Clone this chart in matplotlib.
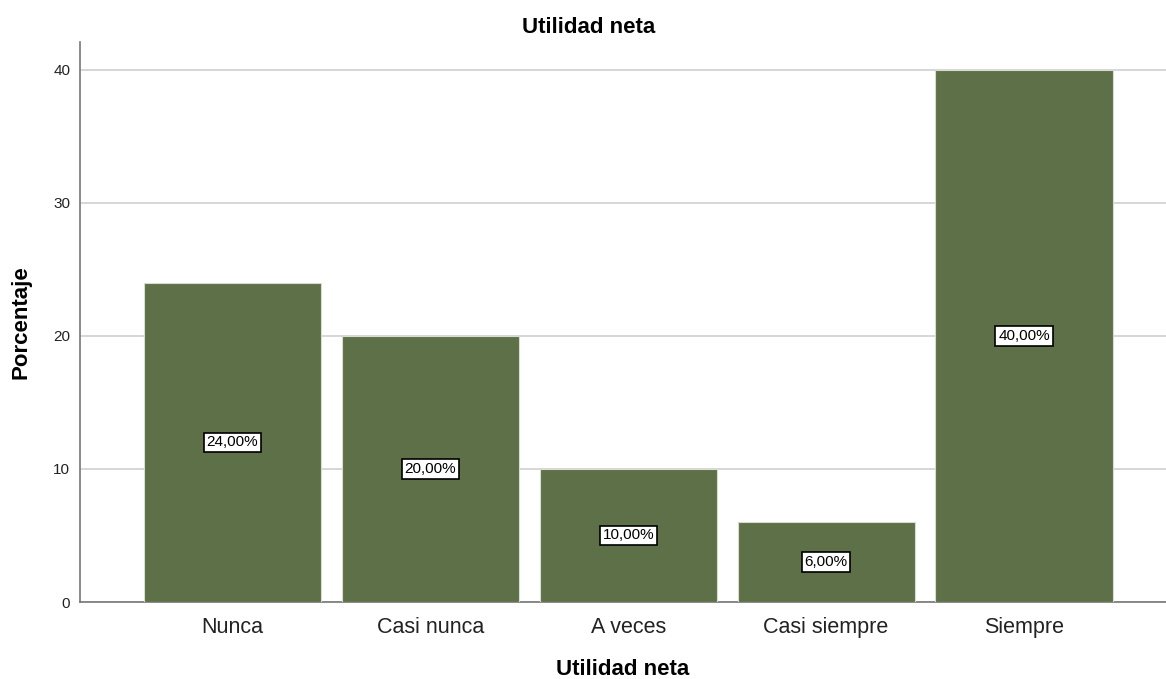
import matplotlib.pyplot as plt

categorias = ['Nunca', 'Casi nunca', 'A veces', 'Casi siempre', 'Siempre']
porcentajes = [24, 20, 10, 6, 40]
etiquetas = ['24,00%', '20,00%', '10,00%', '6,00%', '40,00%']

plt.rcParams['font.family'] = ['Liberation Sans', 'DejaVu Sans']

fig = plt.figure(figsize=(11.66, 6.79), dpi=100)
ax = fig.add_axes([0.0686, 0.1134, 0.931, 0.825])

x = range(len(categorias))
bars = ax.bar(x, porcentajes, width=0.895, color='#5e7048',
              edgecolor='#d8dccf', linewidth=0.8, zorder=3)

for b, v, t in zip(bars, porcentajes, etiquetas):
    ax.text(b.get_x() + b.get_width() / 2, v / 2, t, ha='center', va='center',
            fontsize=11, color='black', zorder=4,
            bbox=dict(boxstyle='square,pad=0.18', fc='white', ec='black', lw=1.2))

ax.set_xlim(-0.77, 4.715)
ax.set_ylim(0, 42.1)
ax.set_yticks([0, 10, 20, 30, 40])
ax.set_xticks(list(x))
ax.set_xticklabels(categorias, fontsize=15.5, color='#222222')
ax.tick_params(axis='both', length=0)
ax.tick_params(axis='y', labelsize=11, pad=7, labelcolor='#222222')
ax.tick_params(axis='x', pad=11)

ax.grid(axis='y', color='#d0d0d0', linewidth=1.2, zorder=0)
for s in ['top', 'right']:
    ax.spines[s].set_visible(False)
for s in ['left', 'bottom']:
    ax.spines[s].set_color('#777777')
    ax.spines[s].set_linewidth(1.2)

# title sits centred on the figure rather than on the axes
ax.set_title('Utilidad neta', fontsize=16, fontweight='bold', pad=6, x=0.469)
ax.set_xlabel('Utilidad neta', fontsize=16, fontweight='bold', labelpad=15)
ax.set_ylabel('Porcentaje', fontsize=16, fontweight='bold', labelpad=16)

fig.savefig('out.png', dpi=100)
